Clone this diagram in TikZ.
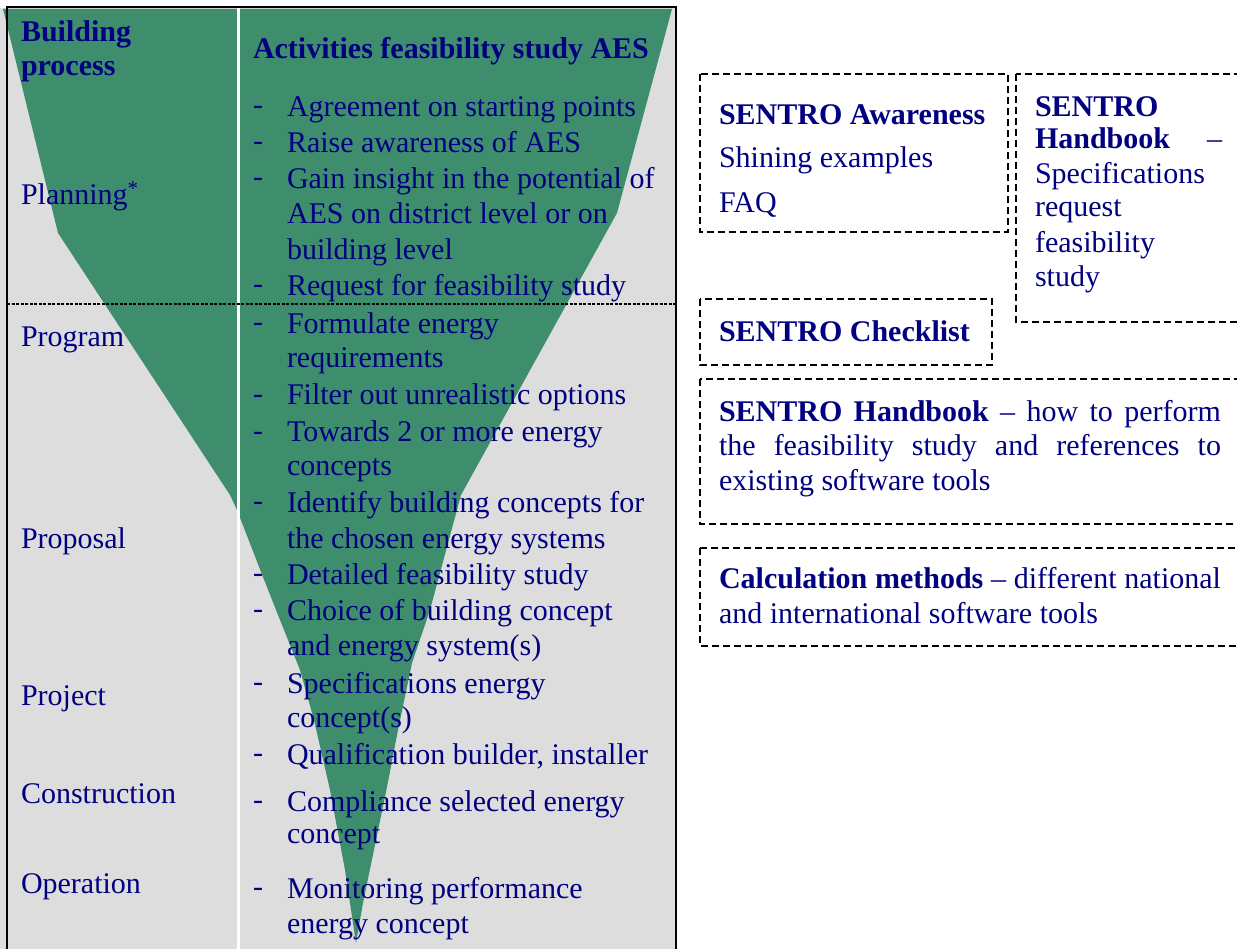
\documentclass[tikz,border=0pt]{standalone}
\usepackage{fontspec}
\setmainfont{Liberation Serif}
\definecolor{navy}{RGB}{0,0,128}
\definecolor{funnel}{RGB}{62,142,110}
\definecolor{cellgray}{RGB}{221,221,221}
\begin{document}
\begin{tikzpicture}[x=1pt,y=-1pt,
  txt/.style={anchor=base west, inner sep=0pt, outer sep=0pt, text=navy, font=\fontsize{30}{36}\selectfont},
  btxt/.style={txt, font=\fontsize{30}{36}\selectfont\bfseries},
  dashmark/.style={txt},
  dbox/.style={draw=black, line width=1.5pt, dash pattern=on 7pt off 4pt},
  rowline/.style={draw=black, line width=1.2pt, dash pattern=on 3pt off 1.5pt}
]
\useasboundingbox (0,0) rectangle (1237,949);
\clip (0,0) rectangle (1237,949);
% table background
\fill[cellgray] (0,8) rectangle (677,960);
% funnel
\fill[funnel] (3,9) -- (672,9) -- (617,213) -- (461,495) -- (430,610) -- (412,663)
  -- (398,730) -- (387,787) -- (363,903) -- (356,943) -- (345,870) -- (330,790)
  -- (314,720) -- (300,670) -- (280,620) -- (263,577) -- (237,510) -- (230,495)
  -- (58,233) -- cycle;
% column divider
\draw[white, line width=3pt] (238,8) -- (238,960);
% row divider
\draw[rowline] (7,304) -- (676,304);
% border
\draw[black, line width=2.5pt] (7,960) -- (7,7) -- (676,7) -- (676,960);

% left column
\node[btxt] (bp1) at (21,42) {Building};
\node[btxt] (bp2) at (21,76) {process};
\node[txt] (plan) at (21,205) {Planning\textsuperscript{*}};
\node[txt] (prog) at (21,347) {Program};
\node[txt] (prop) at (21,548) {Proposal};
\node[txt] (proj) at (21,705) {Project};
\node[txt] (cons) at (21,803) {Construction};
\node[txt] (oper) at (21,893) {Operation};

% right column
\node[btxt] (act) at (253,59) {Activities feasibility study AES};
\foreach \y/\n in {117/d1,153/d2,189/d3,296/d4,334/d5,405/d6,442/d7,512/d8,584/d9,620/d10,693/d11,764/d12,811/d13,898/d14}
  \node[dashmark] (\n) at (253,\y-2) {-};
\node[txt] (a1) at (287,117) {Agreement on starting points};
\node[txt] (a2) at (287,153) {Raise awareness of AES};
\node[txt] (a3) at (287,189) {Gain insight in the potential of};
\node[txt] (a3b) at (287,224) {AES on district level or on};
\node[txt] (a3c) at (287,260) {building level};
\node[txt] (a4) at (287,296) {Request for feasibility study};
\node[txt] (a5) at (287,334) {Formulate energy};
\node[txt] (a5b) at (287,368) {requirements};
\node[txt] (a6) at (287,405) {Filter out unrealistic options};
\node[txt] (a7) at (287,442) {Towards 2 or more energy};
\node[txt] (a7b) at (287,475) {concepts};
\node[txt] (a8) at (287,512) {Identify building concepts for};
\node[txt] (a8b) at (287,548) {the chosen energy systems};
\node[txt] (a9) at (287,584) {Detailed feasibility study};
\node[txt] (a10) at (287,620) {Choice of building concept};
\node[txt] (a10b) at (287,655) {and energy system(s)};
\node[txt] (a11) at (287,693) {Specifications energy};
\node[txt] (a11b) at (287,727) {concept(s)};
\node[txt] (a12) at (287,764) {Qualification builder, installer};
\node[txt] (a13) at (287,811) {Compliance selected energy};
\node[txt] (a13b) at (287,843) {concept};
\node[txt] (a14) at (287,898) {Monitoring performance};
\node[txt] (a14b) at (287,933) {energy concept};

% right boxes
\draw[dbox] (700,74) rectangle (1008,232);
\draw[dbox] (1016,74) rectangle (1260,322);
\draw[dbox] (700,299) rectangle (992,365);
\draw[dbox] (700,379) rectangle (1260,524);
\draw[dbox] (700,548) rectangle (1260,646);

\node[btxt] (aw1) at (719,125) {SENTRO Awareness};
\node[txt] (aw2) at (719,168) {Shining examples};
\node[txt] (aw3) at (719,213) {FAQ};

\node[btxt] (hb1) at (1035,117) {SENTRO};
\node[txt] (hb2) at (1035,149) {\makebox[187pt][s]{\textbf{Handbook} –}};
\node[txt] (hb3) at (1035,184) {Specifications};
\node[txt] (hb4) at (1035,217) {request};
\node[txt] (hb5) at (1035,253) {feasibility};
\node[txt] (hb6) at (1035,287) {study};

\node[btxt] (ck) at (719,342) {SENTRO Checklist};

\node[txt] (hh1) at (719,421) {\makebox[502pt][s]{\textbf{SENTRO Handbook} – how to perform}};
\node[txt] (hh2) at (719,455) {\makebox[502pt][s]{the feasibility study and references to}};
\node[txt] (hh3) at (719,490) {existing software tools};

\node[txt] (cm1) at (719,588) {\makebox[502pt][s]{\textbf{Calculation methods} – different national}};
\node[txt] (cm2) at (719,623) {and international software tools};
\end{tikzpicture}
\end{document}
